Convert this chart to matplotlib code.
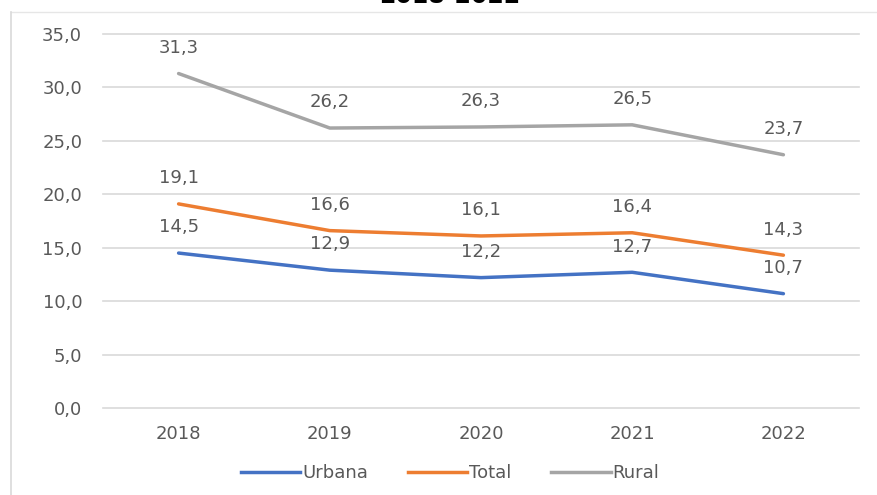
import matplotlib.pyplot as plt
from matplotlib.lines import Line2D

years = ['2018', '2019', '2020', '2021', '2022']
urbana = [14.5, 12.9, 12.2, 12.7, 10.7]
total = [19.1, 16.6, 16.1, 16.4, 14.3]
rural = [31.3, 26.2, 26.3, 26.5, 23.7]

series = [
    ('Urbana', urbana, '#4472C4'),
    ('Total', total, '#ED7D31'),
    ('Rural', rural, '#A5A5A5'),
]

W, H = 878, 495
fig = plt.figure(figsize=(W / 100, H / 100), dpi=100)
ax = fig.add_axes([103 / W, 1 - 408 / H, (859 - 103) / W, (408 - 34) / H])

x = list(range(len(years)))
for name, vals, color in series:
    ax.plot(x, vals, color=color, linewidth=2.5, solid_capstyle='round')
    for xi, v in zip(x, vals):
        ax.annotate(f'{v:.1f}'.replace('.', ','), (xi, v), xytext=(0, 12),
                    textcoords='offset points', ha='center', va='bottom',
                    fontsize=13, color='#595959')

ax.set_xlim(-0.5, len(years) - 0.5)
ax.set_ylim(0, 35)
ax.set_yticks(range(0, 36, 5))
ax.set_yticklabels([f'{t:.1f}'.replace('.', ',') for t in range(0, 36, 5)])
ax.set_xticks(x)
ax.set_xticklabels(years)
ax.tick_params(length=0, labelsize=13, labelcolor='#595959')
ax.tick_params(axis='y', pad=15)
ax.tick_params(axis='x', pad=12)
ax.grid(axis='y', color='#D9D9D9', linewidth=1.2)
ax.set_axisbelow(True)
for gl in ax.get_ygridlines():
    gl.set_clip_on(False)
for s in ax.spines.values():
    s.set_visible(False)

handles = [Line2D([], [], color=c, linewidth=2.5) for _, _, c in series]
fig.legend(handles, [n for n, _, _ in series], loc='center',
           bbox_to_anchor=(450 / W, 1 - 473 / H), ncol=3, frameon=False,
           fontsize=13, labelcolor='#595959', handlelength=3.3,
           handletextpad=0.1, columnspacing=2.2)

# cropped title at the very top
fig.text(450 / W, 1 + 4 / H, '2018-2022', ha='center', va='center',
         fontsize=17, fontweight='bold', color='black')

# frame lines of the original chart box
fig.add_artist(Line2D([11 / W, 1], [1 - 12 / H, 1 - 12 / H], color='#E6E6E6', linewidth=1))
fig.add_artist(Line2D([11 / W, 11 / W], [0, 1 - 12 / H], color='#D9D9D9', linewidth=1.2))

fig.savefig('out.png', dpi=100)
